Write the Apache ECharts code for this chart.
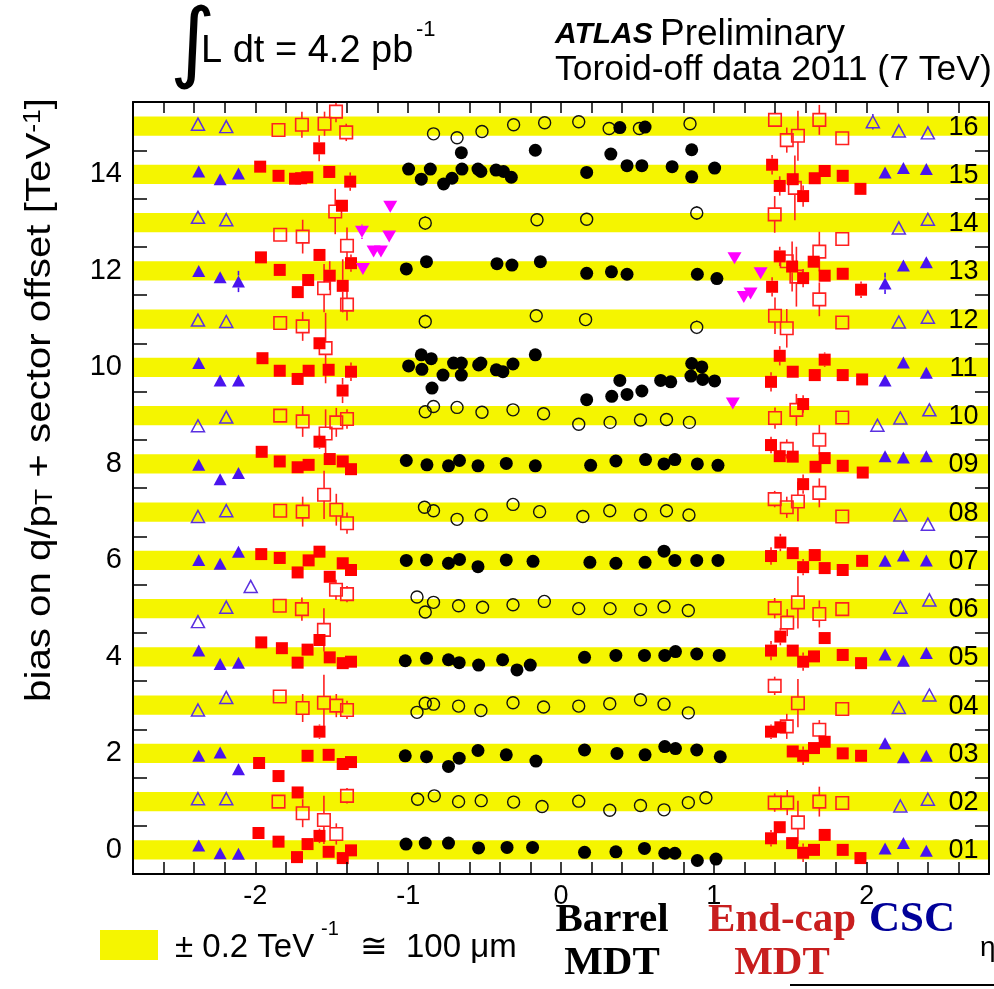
<!DOCTYPE html>
<html><head><meta charset="utf-8">
<script src="https://cdn.jsdelivr.net/npm/echarts@6/dist/echarts.min.js"></script>
<style>html,body{margin:0;padding:0;background:#fff}#c{width:994px;height:989px}</style>
</head><body><div id="c"></div>
<script>
// ---------------- axes / categories ----------------
const ETA_MIN = -2.8, ETA_MAX = 2.8, ETA_STEP = 0.2;
const Y_MIN = -0.5, Y_MAX = 15.5, Y_STEP = 0.5;
const xTickLabels = [-2, -1, 0, 1, 2];
const yTickLabels = [0, 2, 4, 6, 8, 10, 12, 14];
const sectors = [1,2,3,4,5,6,7,8,9,10,11,12,13,14,15,16];
const sectorLabels = ['01','02','03','04','05','06','07','08','09','10','11','12','13','14','15','16'];
const SECTOR_OFFSET = 1;      // TeV^-1 per sector
const BAND_HALF = 0.2;        // +-0.2 TeV^-1
const SECTOR_LABEL_ETA = 2.633;

// ---------------- data: [sector, eta, bias, error] ----------------
const barrelLarge = [
 [15,-0.997,0.11],[15,-0.914,-0.10],[15,-0.855,0.11,0.1],[15,-0.768,-0.20],[15,-0.713,-0.08],[15,-0.652,0.45],[15,-0.648,0.11],[15,-0.543,0.11],[15,-0.524,0.06],[15,-0.425,0.09],[15,-0.376,0.06],[15,-0.325,-0.06],[15,-0.168,0.50],[15,0.168,0.04],[15,0.326,0.42],[15,0.432,0.18],[15,0.529,0.18],[15,0.727,0.16,0.1],[15,0.855,0.51],[15,0.855,-0.05],[15,1.005,0.13],
 [16,0.385,-0.03],[16,0.55,-0.02],
 [13,-1.012,0.04],[13,-0.88,0.19],[13,-0.419,0.15],[13,-0.321,0.12],[13,-0.135,0.19],[13,0.168,-0.05],[13,0.33,-0.02],[13,0.432,-0.07],[13,0.892,-0.07],[13,1.02,-0.16],
 [11,-0.997,0.03],[11,-0.914,0.26],[11,-0.91,-0.04],[11,-0.849,0.18],[11,-0.772,-0.16],[11,-0.844,-0.43],[11,-0.703,0.09],[11,-0.652,0.09],[11,-0.652,-0.16],[11,-0.539,0.05],[11,-0.524,0.09],[11,-0.423,-0.05],[11,-0.38,-0.09],[11,-0.314,0.07],[11,-0.168,0.26],[11,0.168,-0.67],[11,0.332,-0.60],[11,0.385,-0.27],[11,0.432,-0.56],[11,0.529,-0.49],[11,0.652,-0.27],[11,0.718,-0.30],[11,0.855,0.08],[11,0.921,0.01],[11,0.85,-0.18],[11,0.927,-0.25],[11,1.005,-0.28],
 [9,-1.012,0.07],[9,-0.877,-0.02],[9,-0.736,-0.04],[9,-0.664,0.07],[9,-0.543,-0.04],[9,-0.358,0.01],[9,-0.168,-0.04],[9,0.194,-0.03],[9,0.359,0.06],[9,0.553,0.09],[9,0.674,0.0],[9,0.745,0.09],[9,0.892,0.0],[9,1.027,-0.03],
 [7,-1.012,0.0],[7,-0.88,0.01],[7,-0.736,-0.06],[7,-0.664,0.02],[7,-0.543,-0.13],[7,-0.358,0.01],[7,-0.183,-0.02],[7,0.189,-0.04],[7,0.359,-0.06],[7,0.55,-0.04],[7,0.674,0.19],[7,0.745,0.0],[7,0.888,0.0],[7,1.027,0.0],
 [5,-1.019,-0.08],[5,-0.88,-0.03],[5,-0.736,-0.06],[5,-0.666,-0.12],[5,-0.539,-0.17],[5,-0.382,-0.06],[5,-0.288,-0.27],[5,-0.201,-0.17],[5,0.154,-0.01],[5,0.359,0.03],[5,0.546,0.03],[5,0.679,0.03],[5,0.749,0.11],[5,0.888,0.06],[5,1.035,0.03],
 [3,-1.019,-0.05],[3,-0.88,-0.07],[3,-0.736,-0.27],[3,-0.666,-0.10],[3,-0.543,0.06],[3,-0.358,-0.03],[3,-0.164,-0.16],[3,0.154,0.07],[3,0.366,0.0],[3,0.55,-0.03],[3,0.679,0.14],[3,0.749,0.10],[3,0.888,0.07],[3,1.042,-0.07],
 [1,-1.014,0.12],[1,-0.888,0.14],[1,-0.736,0.14],[1,-0.539,0.04],[1,-0.353,0.05],[1,-0.186,0.05],[1,0.154,-0.05],[1,0.359,-0.04],[1,0.546,0.03],[1,0.679,-0.07],[1,0.745,-0.07],[1,0.892,-0.22],[1,1.014,-0.19]
];
const barrelSmall = [
 [16,-0.834,-0.16],[16,-0.68,-0.24],[16,-0.517,-0.11],[16,-0.31,0.03],[16,-0.107,0.07],[16,0.116,0.09],[16,0.315,-0.05],[16,0.513,-0.05],[16,0.844,0.05],
 [14,-0.888,-0.01,0.14],[14,-0.157,0.06],[14,0.168,0.07],[14,0.888,0.20,0.14],
 [12,-0.888,-0.05,0.14],[12,-0.162,0.07],[12,0.161,-0.01],[12,0.888,-0.17,0.14],
 [10,-0.888,0.08],[10,-0.834,0.19],[10,-0.68,0.17],[10,-0.517,0.07],[10,-0.314,0.12],[10,-0.114,0.04],[10,0.116,-0.18],[10,0.321,-0.14],[10,0.52,-0.09],[10,0.69,-0.08],[10,0.84,-0.14],
 [8,-0.893,0.10],[8,-0.834,0.03],[8,-0.68,-0.15],[8,-0.522,-0.06],[8,-0.314,0.16],[8,-0.14,0.01],[8,0.143,-0.09],[8,0.319,0.03],[8,0.52,-0.06],[8,0.69,0.03],[8,0.837,-0.06],
 [6,-0.942,0.24],[6,-0.888,-0.07],[6,-0.834,0.13],[6,-0.67,0.06],[6,-0.513,0.03],[6,-0.314,0.08],[6,-0.109,0.15],[6,0.116,0.0],[6,0.321,0.0],[6,0.52,-0.02],[6,0.674,0.04],[6,0.833,-0.04],
 [4,-0.942,-0.15],[4,-0.888,0.04],[4,-0.834,0.02],[4,-0.67,-0.02],[4,-0.524,-0.11],[4,-0.314,0.05],[4,-0.114,-0.04],[4,0.116,-0.02],[4,0.319,0.03],[4,0.52,0.11],[4,0.674,0.02],[4,0.833,-0.16],
 [2,-0.938,0.05],[2,-0.829,0.12],[2,-0.67,0.0],[2,-0.522,0.02],[2,-0.31,-0.01],[2,-0.124,-0.10],[2,0.116,0.01],[2,0.319,-0.18],[2,0.52,-0.08],[2,0.674,-0.17],[2,0.833,-0.02],[2,0.948,0.08]
];
const endcapLarge = [
 [15,-1.968,0.16,0.08],[15,-1.848,-0.03,0.08],[15,-1.74,-0.09,0.08],[15,-1.70,-0.08,0.08],[15,-1.66,-0.06,0.08],[15,-1.516,0.05,0.08],[15,-1.379,-0.15,0.19],[15,-1.582,0.54,0.27],[15,-1.433,-0.65,0.1],
 [13,-1.963,0.28,0.1],[13,-1.84,0.02,0.05],[13,-1.654,-0.19,0.05],[13,-1.722,-0.44,0.05],[13,-1.58,0.33,0.12],[13,-1.513,-0.10,0.3],[13,-1.428,-0.31,0.55],[13,-1.374,0.16,0.18],
 [11,-1.953,0.19,0.06],[11,-1.84,-0.07,0.05],[11,-1.723,-0.24,0.05],[11,-1.651,-0.07,0.05],[11,-1.52,-0.05,0.1],[11,-1.374,-0.09,0.19],[11,-1.429,-0.48,0.26],[11,-1.58,0.5,0.1],
 [9,-1.958,0.25,0.06],[9,-1.84,0.05,0.05],[9,-1.723,-0.07,0.05],[9,-1.651,-0.02,0.05],[9,-1.58,0.46,0.15],[9,-1.513,0.10,0.08],[9,-1.428,0.05,0.08],[9,-1.374,-0.11,0.08],
 [7,-1.961,0.13,0.05],[7,-1.84,0.05,0.05],[7,-1.723,-0.25,0.05],[7,-1.651,0.0,0.05],[7,-1.58,0.18,0.12],[7,-1.513,-0.34,0.05],[7,-1.428,-0.06,0.08],[7,-1.374,-0.2,0.1],
 [5,-1.961,0.30,0.05],[5,-1.826,0.18,0.05],[5,-1.723,-0.12,0.05],[5,-1.658,0.15,0.05],[5,-1.58,0.35,0.1],[5,-1.513,-0.01,0.05],[5,-1.428,-0.13,0.1],[5,-1.374,-0.10,0.1],
 [3,-1.975,-0.2,0.05],[3,-1.848,-0.47,0.05],[3,-1.723,-0.81,0.05],[3,-1.658,-0.05,0.05],[3,-1.58,0.45,0.15],[3,-1.52,-0.03,0.05],[3,-1.428,-0.22,0.1],[3,-1.374,-0.18,0.1],
 [1,-1.979,0.35,0.05],[1,-1.848,0.17,0.05],[1,-1.727,-0.15,0.05],[1,-1.658,0.12,0.05],[1,-1.58,0.29,0.15],[1,-1.52,-0.04,0.05],[1,-1.428,-0.17,0.1],[1,-1.374,-0.01,0.1],
 [15,1.381,0.2,0.2],[15,1.431,-0.24,0.2],[15,1.516,-0.10,0.05],[15,1.584,-0.45,0.22],[15,1.66,-0.08,0.05],[15,1.725,0.07,0.1],[15,1.843,-0.03,0.05],[15,1.959,-0.30,0.05],
 [13,1.431,0.3,0.2],[13,1.512,0.09,0.52],[13,1.584,-0.15,0.19],[13,1.653,0.19,0.05],[13,1.725,-0.10,0.05],[13,1.843,-0.06,0.05],[13,1.381,-0.33,0.2],[13,1.963,-0.39,0.17],
 [11,1.431,0.24,0.2],[11,1.516,-0.09,0.05],[11,1.66,-0.16,0.05],[11,1.725,0.16,0.15],[11,1.843,-0.16,0.05],[11,1.97,-0.25,0.05],[11,1.374,-0.30,0.2],[11,1.584,-0.76,0.18],
 [9,1.374,0.39,0.17],[9,1.431,0.16,0.05],[9,1.516,0.15,0.05],[9,1.665,-0.06,0.05],[9,1.725,0.12,0.05],[9,1.843,-0.04,0.05],[9,1.974,-0.18,0.05],[9,1.584,-0.42,0.2],
 [7,1.374,0.09,0.18],[7,1.435,0.37,0.18],[7,1.516,0.15,0.05],[7,1.584,-0.14,0.17],[7,1.66,0.11,0.05],[7,1.725,-0.16,0.05],[7,1.843,-0.2,0.05],[7,1.97,-0.01,0.05],
 [5,1.374,0.13,0.2],[5,1.435,0.42,0.18],[5,1.516,0.13,0.05],[5,1.584,-0.10,0.19],[5,1.655,0.01,0.05],[5,1.725,0.39,0.05],[5,1.843,0.04,0.05],[5,1.963,-0.13,0.05],
 [3,1.374,0.45,0.15],[3,1.435,0.54,0.1],[3,1.516,0.04,0.05],[3,1.584,-0.05,0.19],[3,1.655,0.11,0.05],[3,1.725,0.24,0.05],[3,1.843,0.0,0.05],[3,1.963,-0.05,0.05],
 [1,1.374,0.24,0.17],[1,1.431,0.47,0.1],[1,1.512,0.14,0.05],[1,1.584,-0.06,0.19],[1,1.655,0.0,0.05],[1,1.725,0.31,0.05],[1,1.843,0.0,0.05],[1,1.959,-0.17,0.05]
];
const endcapSmall = [
 [16,-1.848,-0.08,0.05],[16,-1.695,0.03,0.27],[16,-1.547,0.05,0.25],[16,-1.472,0.30,0.22],[16,-1.405,-0.13,0.18],
 [14,-1.837,-0.25,0.05],[14,-1.69,-0.29,0.35],[14,-1.477,0.23,0.47],[14,-1.40,-0.48,0.38],
 [12,-1.837,-0.08,0.05],[12,-1.69,-0.15,0.3],[12,-1.55,0.64,0.5],[12,-1.40,0.30,0.33],[12,-1.54,-0.6,0.73],
 [10,-1.837,0.0,0.05],[10,-1.69,-0.12,0.32],[10,-1.54,-0.37,0.5],[10,-1.47,-0.14,0.3],[10,-1.40,-0.07,0.2],
 [8,-1.837,0.03,0.05],[8,-1.69,0.01,0.31],[8,-1.55,0.36,0.5],[8,-1.47,0.05,0.33],[8,-1.40,-0.23,0.22],
 [6,-1.84,0.06,0.05],[6,-1.695,-0.01,0.24],[6,-1.551,-0.44,0.45],[6,-1.472,0.39,0.21],[6,-1.40,0.30,0.17],
 [4,-1.84,0.18,0.05],[4,-1.69,-0.06,0.29],[4,-1.551,0.05,0.58],[4,-1.47,-0.01,0.24],[4,-1.40,-0.10,0.19],
 [2,-1.848,0.0,0.05],[2,-1.69,-0.24,0.29],[2,-1.551,-0.38,0.5],[2,-1.47,-0.67,0.22],[2,-1.40,0.12,0.16],
 [16,1.40,0.13,0.1],[16,1.477,-0.29,0.26],[16,1.55,-0.2,0.52],[16,1.69,0.13,0.31],[16,1.84,-0.25,0.05],
 [14,1.398,0.17,0.38],[14,1.53,0.72,0.67],[14,1.69,-0.6,0.41],[14,1.84,-0.34,0.05],[14,1.477,-0.8,0.1],
 [12,1.40,0.07,0.38],[12,1.477,-0.19,0.4],[12,1.84,-0.07,0.05],[12,1.69,0.41,0.35],[12,1.54,0.88,0.62],
 [10,1.40,-0.05,0.22],[10,1.477,-0.69,0.2],[10,1.54,0.12,0.33],[10,1.69,-0.5,0.31],[10,1.84,-0.04,0.05],
 [8,1.398,0.27,0.17],[8,1.477,0.10,0.22],[8,1.55,0.22,0.41],[8,1.69,0.40,0.3],[8,1.84,-0.09,0.05],
 [6,1.398,0.01,0.21],[6,1.48,-0.29,0.28],[6,1.55,0.13,0.54],[6,1.69,-0.11,0.28],[6,1.84,-0.01,0.05],
 [4,1.398,0.40,0.19],[4,1.55,0.04,0.5],[4,1.84,-0.08,0.05],[4,1.477,-0.44,0.26],[4,1.69,-0.51,0.2],
 [2,1.398,-0.02,0.19],[2,1.48,-0.02,0.26],[2,1.69,0.0,0.31],[2,1.84,-0.03,0.05],[2,1.55,-0.43,0.45]
];
const cscLarge = [
 [15,-2.37,0.06],[15,-2.23,-0.10],[15,-2.11,0.02],
 [13,-2.37,0.0],[13,-2.23,-0.13],[13,-2.11,-0.22,0.22],
 [11,-2.37,0.09],[11,-2.23,-0.27],[11,-2.11,-0.27],
 [9,-2.37,-0.02],[9,-2.23,-0.32],[9,-2.11,-0.19],
 [7,-2.37,0.01],[7,-2.23,-0.07],[7,-2.11,0.18],
 [5,-2.37,0.13],[5,-2.23,-0.15],[5,-2.11,-0.12],
 [3,-2.37,-0.05],[3,-2.23,0.02],[3,-2.11,-0.33],
 [1,-2.37,0.09],[1,-2.23,-0.07],[1,-2.11,-0.08],
 [15,2.12,0.04],[15,2.24,0.13],[15,2.39,0.11],
 [13,2.12,-0.26,0.22],[13,2.24,0.11],[13,2.39,0.18],
 [11,2.12,-0.27],[11,2.24,0.10],[11,2.39,-0.11],
 [9,2.12,0.16],[9,2.24,0.13],[9,2.39,0.16],
 [7,2.12,-0.01],[7,2.24,0.10],[7,2.39,0.0],
 [5,2.12,0.05],[5,2.24,-0.08],[5,2.39,0.08],
 [3,2.12,0.21],[3,2.24,-0.08],[3,2.39,-0.05],
 [1,2.12,0.03],[1,2.24,0.14],[1,2.39,-0.02]
];
const cscSmall = [
 [16,-2.375,0.04],[16,-2.19,-0.01],
 [14,-2.375,0.11],[14,-2.19,0.06],
 [12,-2.375,-0.02],[12,-2.19,-0.05],
 [10,-2.375,-0.21],[10,-2.19,-0.03],
 [8,-2.375,-0.09],[8,-2.19,0.03],
 [6,-2.375,-0.27],[6,-2.19,0.03],[6,-2.03,0.46],
 [4,-2.375,-0.10],[4,-2.19,0.16],
 [2,-2.375,0.06],[2,-2.19,0.06],
 [16,2.04,0.09,0.16],[16,2.21,-0.10],[16,2.40,-0.14],
 [14,2.21,-0.11],[14,2.40,0.07],
 [12,2.21,-0.06],[12,2.40,0.04],
 [10,2.07,-0.2],[10,2.22,-0.05],[10,2.41,0.12],
 [8,2.22,-0.06],[8,2.40,-0.25],
 [6,2.22,0.03],[6,2.41,0.18],
 [4,2.21,-0.05],[4,2.41,0.21],
 [2,2.22,-0.09],[2,2.40,0.05]
];
const barrelEE = [
 [13,-1.117,1.33],[13,-1.302,0.81,0.15],[13,-1.124,0.71],[13,-1.226,0.40],[13,-1.178,0.40],[13,-1.296,0.04],
 [13,1.135,0.26],[13,1.306,-0.05],[13,1.196,-0.54],[13,1.24,-0.47],
 [11,1.124,-0.75]
];

// ---------------- build ----------------
const FONT = "'Liberation Sans', Arial, Helvetica, sans-serif";
const SERIF = "'Liberation Serif', 'Times New Roman', serif";

function toPoints(rows) {
  return rows.map(r => [r[1], (r[0] - 1) * SECTOR_OFFSET + r[2], r.length > 3 ? r[3] : 0]);
}

const markerTypes = [
  {rows: barrelSmall, symbol: 'circle', size: 12, fill: 'rgba(0,0,0,0)', stroke: '#111', bw: 1.4, err: '#111', gap: 6},
  {rows: barrelLarge, symbol: 'circle', size: 13, fill: '#000', stroke: '#000', bw: 0, err: '#000', gap: 6},
  {rows: endcapSmall, symbol: 'rect', size: 12.5, fill: 'rgba(0,0,0,0)', stroke: '#ff2020', bw: 1.6, err: '#ff2020', gap: 6},
  {rows: endcapLarge, symbol: 'rect', size: 12, fill: '#ff0000', stroke: '#ff0000', bw: 0, err: '#ff2020', gap: 6},
  {rows: cscSmall, symbol: 'triangle', size: [13, 12], fill: 'rgba(0,0,0,0)', stroke: '#5a30e0', bw: 1.5, err: '#5a30e0', gap: 6},
  {rows: cscLarge, symbol: 'triangle', size: [13, 12], fill: '#4a14ee', stroke: '#4a14ee', bw: 0, err: '#4a14ee', gap: 6},
  {rows: barrelEE, symbol: 'triangle', size: [14, 12], rotate: 180, fill: '#ff00ff', stroke: '#ff00ff', bw: 0, err: '#ff00ff', gap: 6}
];

const series = [];
// yellow +-0.2 bands
series.push({
  type: 'custom', z: 1, silent: true,
  data: sectors.map(s => [(s - 1) * SECTOR_OFFSET]),
  renderItem: (params, api) => {
    const off = api.value(0);
    const p1 = api.coord([ETA_MIN, off + BAND_HALF]);
    const p2 = api.coord([ETA_MAX, off - BAND_HALF]);
    return {type: 'rect', shape: {x: p1[0], y: p1[1], width: p2[0] - p1[0], height: p2[1] - p1[1]},
            style: {fill: '#f5f500'}};
  },
  encode: {x: -1, y: 0}
});

markerTypes.forEach(mt => {
  const pts = toPoints(mt.rows);
  series.push({
    type: 'custom', z: 3, silent: true, data: pts, encode: {x: 0, y: 1},
    renderItem: (params, api) => {
      const x = api.value(0), y = api.value(1), e = api.value(2);
      const c = api.coord([x, y]), t = api.coord([x, y + e]), b = api.coord([x, y - e]);
      const ch = [];
      const st = {stroke: mt.err, lineWidth: 1.6};
      if (c[1] - t[1] > mt.gap) ch.push({type: 'line', shape: {x1: c[0], y1: t[1], x2: c[0], y2: c[1] - mt.gap}, style: st});
      if (b[1] - c[1] > mt.gap) ch.push({type: 'line', shape: {x1: c[0], y1: c[1] + mt.gap, x2: c[0], y2: b[1]}, style: st});
      return {type: 'group', children: ch};
    }
  });
  series.push({
    type: 'scatter', z: 4, silent: true, data: pts.map(p => [p[0], p[1]]),
    symbol: mt.symbol, symbolSize: mt.size, symbolRotate: mt.rotate || 0,
    itemStyle: {color: mt.fill, borderColor: mt.stroke, borderWidth: mt.bw, opacity: 1},
    emphasis: {disabled: true}
  });
});

// sector number labels on the right
series.push({
  type: 'custom', z: 5, silent: true,
  data: sectors.map(s => [SECTOR_LABEL_ETA, (s - 1) * SECTOR_OFFSET]),
  encode: {x: 0, y: 1},
  renderItem: (params, api) => {
    const c = api.coord([api.value(0), api.value(1)]);
    return {type: 'text', x: c[0], y: c[1] + 1,
      style: {text: sectorLabels[params.dataIndex], fill: '#000', font: '27px ' + FONT, align: 'center', verticalAlign: 'middle'}};
  }
});

const isNear = (v, arr) => arr.find(a => Math.abs(v - a) < 1e-6);
const xLabelFmt = v => { const l = isNear(v, xTickLabels); return l === undefined ? '' : String(l); };
const yLabelFmt = v => { const l = isNear(v, yTickLabels); return l === undefined ? '' : String(l); };

const baseX = {type: 'value', min: ETA_MIN, max: ETA_MAX, interval: ETA_STEP, splitLine: {show: false}};
const baseY = {type: 'value', min: Y_MIN, max: Y_MAX, interval: Y_STEP, splitLine: {show: false}};
const frameLine = {show: true, onZero: false, lineStyle: {color: '#000', width: 2}};

const option = {
  animation: false,
  backgroundColor: '#fff',
  grid: {left: 133, right: 5, top: 102, bottom: 115, containLabel: false},
  xAxis: [
    Object.assign({}, baseX, {position: 'bottom', z: 6, axisLine: frameLine,
      axisTick: {show: true, inside: true, length: 12, lineStyle: {color: '#000', width: 1.5}},
      axisLabel: {formatter: xLabelFmt, margin: 9, color: '#000', fontSize: 27, fontFamily: FONT}}),
    Object.assign({}, baseX, {position: 'top', z: 6, axisLine: frameLine,
      axisTick: {show: true, inside: true, length: 11, lineStyle: {color: '#000', width: 1.5}},
      axisLabel: {show: false}})
  ],
  yAxis: [
    Object.assign({}, baseY, {position: 'left', z: 0,
      axisLine: {show: false, onZero: false},
      axisTick: {show: true, inside: true, length: 14, lineStyle: {color: '#000', width: 1.5}},
      axisLabel: {formatter: yLabelFmt, margin: 11, color: '#000', fontSize: 29, fontFamily: FONT}}),
    Object.assign({}, baseY, {position: 'right', z: 0,
      axisLine: {show: false, onZero: false},
      axisTick: {show: true, inside: true, length: 14, lineStyle: {color: '#000', width: 1.5}},
      axisLabel: {show: false}}),
    Object.assign({}, baseY, {position: 'left', z: 6, axisLine: frameLine, axisTick: {show: false}, axisLabel: {show: false}}),
    Object.assign({}, baseY, {position: 'right', z: 6, axisLine: frameLine, axisTick: {show: false}, axisLabel: {show: false}})
  ],
  series: series,
  graphic: [
    {type: 'text', x: 170, y: 48, style: {text: '\u222B', font: '88px "DejaVu Sans"', fill: '#000', verticalAlign: 'middle'}},
    {type: 'text', x: 201, y: 52, style: {text: 'L dt = 4.2 pb', font: '38px ' + FONT, fill: '#000', verticalAlign: 'middle'}},
    {type: 'text', x: 416, y: 30, style: {text: '-1', font: '22px ' + FONT, fill: '#000', verticalAlign: 'middle'}},
    {type: 'text', x: 555, y: 35, style: {text: 'ATLAS', font: 'italic bold 30px ' + FONT, fill: '#000', verticalAlign: 'middle'}},
    {type: 'text', x: 660, y: 35, style: {text: 'Preliminary', font: '37px ' + FONT, fill: '#000', verticalAlign: 'middle'}},
    {type: 'text', x: 555, y: 70, style: {text: 'Toroid-off data 2011 (7 TeV)', font: '35.5px ' + FONT, fill: '#000', verticalAlign: 'middle'}},
    {type: 'text', x: 40, y: 400, rotation: Math.PI / 2, scaleX: 1.15,
      style: {text: '{a|bias on q/p}{b|T}{a| + sector offset [TeV}{c|-1}{a|]}', align: 'center', verticalAlign: 'middle', fill: '#000',
        rich: {a: {fontSize: 35, fontFamily: FONT, fill: '#000'},
               b: {fontSize: 23, fontFamily: FONT, fill: '#000', verticalAlign: 'bottom'},
               c: {fontSize: 23, fontFamily: FONT, fill: '#000', verticalAlign: 'top'}}}},
    {type: 'rect', shape: {x: 100, y: 930, width: 58, height: 30}, style: {fill: '#f5f500'}},
    {type: 'text', x: 175, y: 948, style: {text: '\u00B1 0.2 TeV', font: '33px ' + FONT, fill: '#000', verticalAlign: 'middle'}},
    {type: 'text', x: 321, y: 929, style: {text: '-1', font: '20px ' + FONT, fill: '#000', verticalAlign: 'middle'}},
    {type: 'text', x: 360, y: 948, style: {text: '\u2245', font: '33px ' + FONT, fill: '#000', verticalAlign: 'middle'}},
    {type: 'text', x: 406, y: 948, style: {text: '100 \u03BCm', font: '33px ' + FONT, fill: '#000', verticalAlign: 'middle'}},
    {type: 'text', x: 612, y: 920, style: {text: 'Barrel', font: 'bold 41px ' + SERIF, fill: '#000', align: 'center', verticalAlign: 'middle'}},
    {type: 'text', x: 612, y: 963, style: {text: 'MDT', font: 'bold 41px ' + SERIF, fill: '#000', align: 'center', verticalAlign: 'middle'}},
    {type: 'text', x: 782, y: 920, style: {text: 'End-cap', font: 'bold 41px ' + SERIF, fill: '#c81e1e', align: 'center', verticalAlign: 'middle'}},
    {type: 'text', x: 782, y: 963, style: {text: 'MDT', font: 'bold 41px ' + SERIF, fill: '#c81e1e', align: 'center', verticalAlign: 'middle'}},
    {type: 'text', x: 912, y: 920, style: {text: 'CSC', font: 'bold 43px ' + SERIF, fill: '#000099', align: 'center', verticalAlign: 'middle'}},
    {type: 'text', x: 980, y: 948, style: {text: '\u03B7', font: '28px ' + FONT, fill: '#000', verticalAlign: 'middle'}},
    {type: 'line', shape: {x1: 790, y1: 985, x2: 994, y2: 985}, style: {stroke: '#000', lineWidth: 2}}
  ]
};

const chart = echarts.init(document.getElementById('c'), null, {renderer: 'canvas'});
chart.setOption(option);
</script>
</body></html>
